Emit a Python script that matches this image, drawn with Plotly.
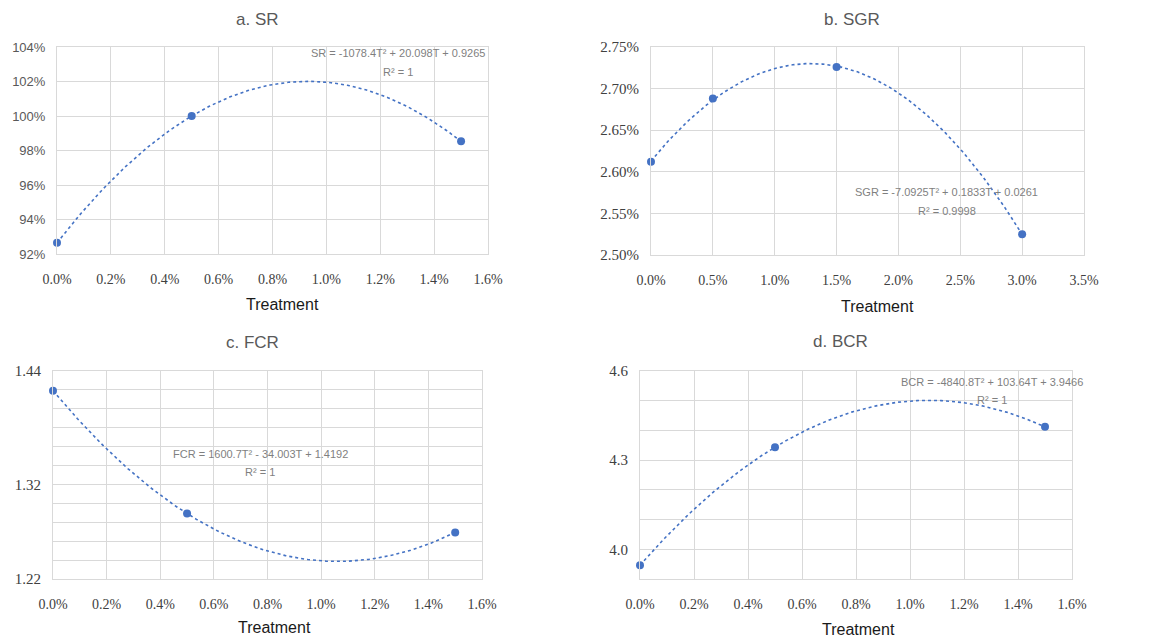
import numpy as np
import plotly.graph_objects as go

# ---------------- data ----------------
sr_x = [0.0, 0.005, 0.015]
sr_y = [0.9265, 1.0000, 0.9853]

sgr_x = [0.0, 0.005, 0.015, 0.030]
sgr_y = [0.02612, 0.02688, 0.02726, 0.02525]

fcr_x = [0.0, 0.005, 0.015]
fcr_y = [1.4192, 1.2892, 1.2693]

bcr_x = [0.0, 0.005, 0.015]
bcr_y = [3.9466, 4.3438, 4.4120]

titles = ["a. SR", "b. SGR", "c. FCR", "d. BCR"]
equations = [
    ("SR = -1078.4T² + 20.098T + 0.9265", "R² = 1"),
    ("SGR = -7.0925T² + 0.1833T + 0.0261", "R² = 0.9998"),
    ("FCR = 1600.7T² - 34.003T + 1.4192", "R² = 1"),
    ("BCR = -4840.8T² + 103.64T + 3.9466", "R² = 1"),
]

fcr_ticks = [1.22, 1.24, 1.26, 1.28, 1.30, 1.32, 1.34, 1.36, 1.38, 1.40, 1.42, 1.44]
fcr_labels = ["1.22", "", "", "", "", "1.32", "", "", "", "", "", "1.44"]
bcr_ticks = [3.9, 4.0, 4.1, 4.2, 4.3, 4.4, 4.5, 4.6]
bcr_labels = ["", "4.0", "", "", "4.3", "", "", "4.6"]

# ---------------- layout geometry ----------------
# the page body has an 8px margin, so the figure is 8px smaller and offset
OFF = 8
W, H = 1158 - OFF, 641 - OFF
BLUE = "#4472C4"
GRID = "#D9D9D9"

def px_x(v):
    return (v - OFF) / W

def px_y(v):
    return 1 - (v - OFF) / H

panels = [
    dict(x0=57, x1=488, y0=47, y1=254),
    dict(x0=651, x1=1084, y0=47, y1=255),
    dict(x0=53, x1=482, y0=371, y1=579),
    dict(x0=640, x1=1072, y0=371, y1=579),
]

fig = go.Figure()

series = [(sr_x, sr_y), (sgr_x, sgr_y), (fcr_x, fcr_y), (bcr_x, bcr_y)]
for i, (xs, ys) in enumerate(series):
    ax = "" if i == 0 else str(i + 1)
    coef = np.polyfit(xs, ys, 2)
    xf = np.linspace(min(xs), max(xs), 200)
    yf = np.polyval(coef, xf)
    fig.add_trace(go.Scatter(x=xf, y=yf, mode="lines",
                             line=dict(color=BLUE, width=1.6, dash="dot"),
                             xaxis="x" + ax, yaxis="y" + ax, showlegend=False,
                             hoverinfo="skip", cliponaxis=False))
    fig.add_trace(go.Scatter(x=xs, y=ys, mode="markers",
                             marker=dict(color=BLUE, size=8),
                             xaxis="x" + ax, yaxis="y" + ax, showlegend=False,
                             cliponaxis=False))

serif = "Liberation Serif"
sans = "Liberation Sans"

common_x = dict(showgrid=True, gridcolor=GRID, gridwidth=1, zeroline=False,
                showline=True, linecolor=GRID, mirror=True, ticks="",
                automargin=False,
                tickfont=dict(family=serif, size=14, color="#404040"),
                ticklabelstandoff=12)
common_y = dict(showgrid=True, gridcolor=GRID, gridwidth=1, zeroline=False,
                showline=True, linecolor=GRID, mirror=True, ticks="",
                automargin=False,
                ticklabelstandoff=8)

layout = dict(width=W, height=H, margin=dict(l=0, r=0, t=0, b=0),
              plot_bgcolor="white", paper_bgcolor="white")

for i, p in enumerate(panels):
    ax = "" if i == 0 else str(i + 1)
    xd = [px_x(p["x0"]), px_x(p["x1"])]
    yd = [px_y(p["y1"]), px_y(p["y0"])]
    xa = dict(common_x, domain=xd, anchor="y" + ax)
    ya = dict(common_y, domain=yd, anchor="x" + ax)
    if i == 1:
        xa.update(range=[0, 0.035], dtick=0.005, tick0=0, tickformat=".1%")
    else:
        xa.update(range=[0, 0.016], dtick=0.002, tick0=0, tickformat=".1%")
    if i == 0:
        ya.update(range=[0.92, 1.04], dtick=0.02, tick0=0.92, tickformat=".0%",
                  tickfont=dict(family=sans, size=13, color="#595959"))
    elif i == 1:
        ya.update(range=[0.025, 0.0275], dtick=0.0005, tick0=0.025, tickformat=".2%",
                  tickfont=dict(family=serif, size=15, color="#404040"))
    elif i == 2:
        ya.update(range=[1.22, 1.44], tickmode="array", tickvals=fcr_ticks,
                  ticktext=fcr_labels,
                  tickfont=dict(family=serif, size=15, color="#404040"))
    else:
        ya.update(range=[3.9, 4.6], tickmode="array", tickvals=bcr_ticks,
                  ticktext=bcr_labels,
                  tickfont=dict(family=serif, size=15, color="#404040"))
    layout["xaxis" + ax] = xa
    layout["yaxis" + ax] = ya

fig.update_layout(**layout)

# titles, axis titles, equations
title_pos = [(257, 19), (852, 19), (252, 342), (840, 341)]
xtitle_pos = [(282, 304), (877, 306), (274, 627), (858, 629)]
eq_pos = [((398, 53), (398, 72)), ((946, 192), (947, 211)),
          ((260, 454), (260, 472)), ((992, 382), (992, 400))]

for i in range(4):
    tx, ty = title_pos[i]
    fig.add_annotation(x=px_x(tx), y=px_y(ty), xref="paper", yref="paper",
                       text=titles[i], showarrow=False, xanchor="center", yanchor="middle",
                       font=dict(family=sans, size=17, color="#595959"))
    ax_, ay_ = xtitle_pos[i]
    fig.add_annotation(x=px_x(ax_), y=px_y(ay_), xref="paper", yref="paper",
                       text="Treatment", showarrow=False, xanchor="center", yanchor="middle",
                       font=dict(family=sans, size=16, color="#1a1a1a"))
    (e1x, e1y), (e2x, e2y) = eq_pos[i]
    fig.add_annotation(x=px_x(e1x), y=px_y(e1y), xref="paper", yref="paper",
                       text=equations[i][0], showarrow=False, xanchor="center", yanchor="middle",
                       font=dict(family=sans, size=11, color="#7F7F7F"))
    fig.add_annotation(x=px_x(e2x), y=px_y(e2y), xref="paper", yref="paper",
                       text=equations[i][1], showarrow=False, xanchor="center", yanchor="middle",
                       font=dict(family=sans, size=11, color="#7F7F7F"))

fig.write_html("out.html")
